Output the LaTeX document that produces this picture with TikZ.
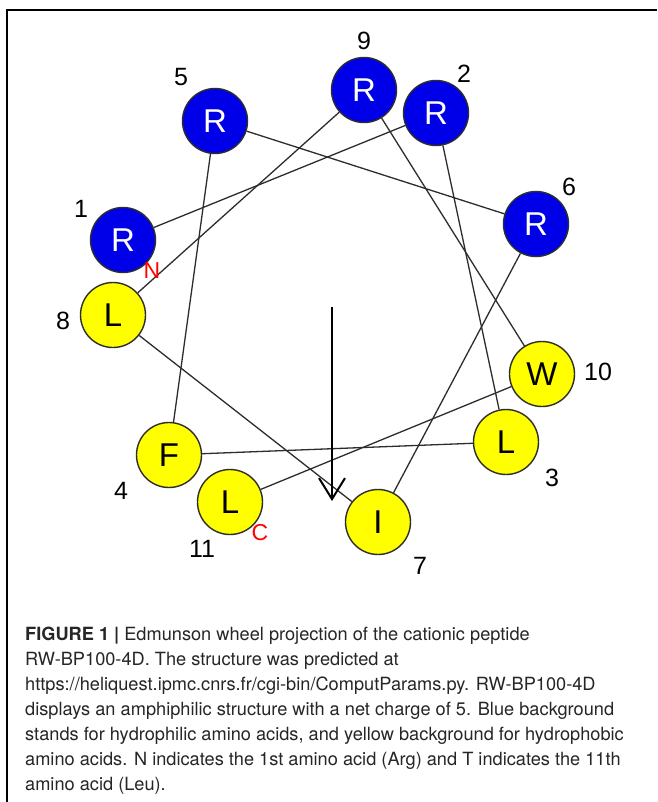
\documentclass[tikz,border=0pt]{standalone}
\usepackage{fontspec}
\setmainfont{Liberation Sans}
\newfontfamily\capfont{TeX Gyre Heros}
\usetikzlibrary{arrows.meta}
\definecolor{resblue}{RGB}{0,0,232}
\definecolor{resyellow}{RGB}{255,255,0}
\definecolor{edgegray}{RGB}{45,45,45}
\begin{document}
\begin{tikzpicture}[x=1pt,y=-1pt,
  res/.style={circle, draw=edgegray, line width=1.4pt, minimum size=65pt, inner sep=0pt, font=\fontsize{33}{33}\selectfont},
  hphil/.style={res, fill=resblue, text=white},
  hphob/.style={res, fill=resyellow, text=black},
  num/.style={font=\fontsize{25}{25}\selectfont, inner sep=0pt},
  term/.style={text=red, font=\fontsize{23}{23}\selectfont, inner sep=0pt},
  link/.style={draw=edgegray, line width=1.3pt},
  capline/.style={anchor=base west, inner sep=0pt, font=\capfont\fontsize{18.2}{18.2}\selectfont, text=black!85}
]
\useasboundingbox (0,0) rectangle (657,802);
\fill[white] (0,0) rectangle (657,802);
\coordinate (frTR) at (657,10);
\coordinate (frTL) at (7,10);
\coordinate (frBL) at (7,802);
\draw[line width=1.4pt] (frTR) -- (frTL) -- (frBL);

% residues
\node[hphil] (r1) at (123,240) {R};
\node[hphil] (r2) at (436,113) {R};
\node[hphob] (r3) at (506,442) {L};
\node[hphob] (r4) at (169,455) {F};
\node[hphil] (r5) at (215,121) {R};
\node[hphil] (r6) at (536,224) {R};
\node[hphob] (r7) at (378,522) {I};
\node[hphob] (r8) at (113,315) {L};
\node[hphil] (r9) at (364,90) {R};
\node[hphob] (r10) at (542,374) {W};
\node[hphob] (r11) at (230,502) {L};

% connectors
\draw[link] (r1) -- (r2);
\draw[link] (r2) -- (r3);
\draw[link] (r3) -- (r4);
\draw[link] (r4) -- (r5);
\draw[link] (r5) -- (r6);
\draw[link] (r6) -- (r7);
\draw[link] (r7) -- (r8);
\draw[link] (r8) -- (r9);
\draw[link] (r9) -- (r10);
\draw[link] (r10) -- (r11);

% numbers
\node[num] (n9) at (364,41) {9};
\node[num] (n2) at (464,74) {2};
\node[num] (n5) at (181,77) {5};
\node[num] (n6) at (569,187) {6};
\node[num] (n1) at (81,209) {1};
\node[num] (n8) at (63,321) {8};
\node[num] (n10) at (598,372) {10};
\node[num] (n3) at (552,478) {3};
\node[num] (n4) at (121,491) {4};
\node[num] (n11) at (202,549) {11};
\node[num] (n7) at (420,566) {7};

% terminal marks
\node[term] (tN) at (152,271) {N};
\node[term] (tC) at (260,533) {C};

% moment arrow
\coordinate (arrS) at (332,307);
\coordinate (arrE) at (332,501);
\draw[line width=2pt, -{Straight Barb[length=21pt,width=26pt]}] (arrS) -- (arrE);

% caption
\node[capline] (c1) at (25,640) {{\bfseries FIGURE 1 |} Edmunson wheel projection of the cationic peptide};
\node[capline] (c2) at (25,665) {RW-BP100-4D. The structure was predicted at};
\node[capline] (c3) at (25,690) {https://heliquest.ipmc.cnrs.fr/cgi-bin/ComputParams.py. RW-BP100-4D};
\node[capline] (c4) at (25,715) {displays an amphiphilic structure with a net charge of 5. Blue background};
\node[capline] (c5) at (25,740) {stands for hydrophilic amino acids, and yellow background for hydrophobic};
\node[capline] (c6) at (25,765) {amino acids. N indicates the 1st amino acid (Arg) and T indicates the 11th};
\node[capline] (c7) at (25,790) {amino acid (Leu).};
\end{tikzpicture}
\end{document}
